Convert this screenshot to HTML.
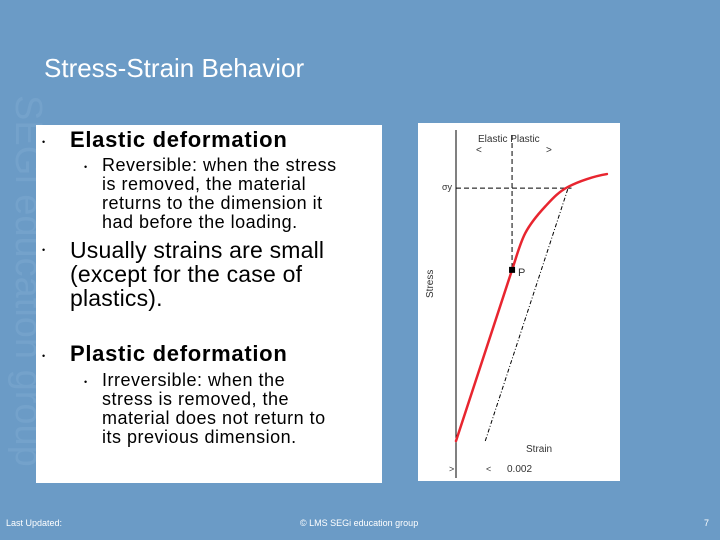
<!DOCTYPE html>
<html><head><meta charset="utf-8"><style>
body{margin:0;width:720px;height:540px;background:#6b9bc6;position:relative;overflow:hidden;font-family:"Liberation Sans",Arial,sans-serif}
.abs{position:absolute}
#title{left:44px;top:53px;font-size:26px;color:#fff}
#panel{left:36px;top:125px;width:346px;height:358px;background:#fff}
.b{position:absolute;font-size:22px;color:#000;line-height:24px;font-weight:bold;letter-spacing:0.7px}
.n{font-weight:normal;letter-spacing:0.2px}
.s{position:absolute;font-size:18px;color:#000;line-height:19px;white-space:nowrap;letter-spacing:0.5px}
.dot{position:absolute;font-size:9px}
#wm{left:8px;top:95px;writing-mode:vertical-rl;font-size:38px;color:#74a2cb;line-height:40px}
.foot{position:absolute;font-size:9px;color:#fff;top:518px}
</style></head><body>
<div id="wm" class="abs">SEGi education group</div>
<div id="title" class="abs">Stress-Strain Behavior</div>
<div id="panel" class="abs">
<div class="dot" style="left:6px;top:12px">•</div>
<div class="b" style="left:34px;top:3px">Elastic deformation</div>
<div class="dot" style="left:48px;top:37px">•</div>
<div class="s" style="left:66px;top:31px">Reversible: when the stress<br>is removed, the material<br>returns to the dimension it<br>had before the loading.</div>
<div class="dot" style="left:6px;top:120px">•</div>
<div class="b n" style="left:34px;top:113px;width:290px;font-size:23px">Usually strains are small (except for the case of plastics).</div>
<div class="dot" style="left:6px;top:226px">•</div>
<div class="b" style="left:34px;top:217px">Plastic deformation</div>
<div class="dot" style="left:48px;top:252px">•</div>
<div class="s" style="left:66px;top:246px">Irreversible: when the<br>stress is removed, the<br>material does not return to<br>its previous dimension.</div>
</div>
<svg class="abs" style="left:418px;top:123px" width="202" height="358">
<rect width="202" height="358" fill="#fff"/>
<g id="g" transform="translate(-418,-123)"></g>
</svg>
<div class="foot" style="left:6px">Last Updated:</div>
<div class="foot" style="left:300px">© LMS SEGi education group</div>
<div class="foot" style="left:704px">7</div>
<script>
const strain=[0,0.364,0.45,0.58,0.73,0.98];
const stress=[0,0.609,0.74,0.835,0.905,0.95];
const pIndex=1;const yieldStress=0.900;const offset=0.19;
const x=s=>456+s*154, y=v=>441-v*281;
const g=document.getElementById('g');const NS='http://www.w3.org/2000/svg';
function add(t,a,txt){const e=document.createElementNS(NS,t);for(const k in a)e.setAttribute(k,a[k]);if(txt)e.textContent=txt;g.appendChild(e);return e;}
let e=add('line',{x1:456,y1:130,x2:456,y2:478,stroke:'#000','stroke-width':1});

e=add('line',{x1:x(0),y1:y(yieldStress),x2:x(0.75),y2:y(yieldStress),stroke:'#000','stroke-dasharray':'5,3'});

e=add('line',{x1:x(strain[pIndex]),y1:135,x2:x(strain[pIndex]),y2:y(stress[pIndex]),stroke:'#000','stroke-dasharray':'5,3'});

const sl=stress[pIndex]/strain[pIndex];
e=add('line',{x1:x(offset),y1:y(0),x2:x(offset+yieldStress/sl),y2:y(yieldStress),stroke:'#000','stroke-dasharray':'4,2,1,2'});

const px=strain.map(x), py=stress.map(y);
let d='M'+px[0]+','+py[0]+'L'+px[1]+','+py[1];
for(let i=1;i<px.length-1;i++){
  const p0x=i===1?2*px[1]-px[2]:px[i-1];
  const p0y=i===1?py[1]-(py[1]-py[0])*((px[2]-px[1])/(px[1]-px[0])):py[i-1];
  const p3x=i+2<px.length?px[i+2]:2*px[i+1]-px[i], p3y=i+2<py.length?py[i+2]:py[i+1];
  const c1x=px[i]+(px[i+1]-p0x)/6, c1y=py[i]+(py[i+1]-p0y)/6;
  const c2x=px[i+1]-(p3x-px[i])/6, c2y=py[i+1]-(p3y-py[i])/6;
  d+='C'+c1x+','+c1y+' '+c2x+','+c2y+' '+px[i+1]+','+py[i+1];
}
e=add('path',{d:d,fill:'none',stroke:'#e8252f','stroke-width':2.5,'stroke-linejoin':'round','stroke-linecap':'round'});

e=add('rect',{x:x(strain[pIndex])-3,y:y(stress[pIndex])-3,width:6,height:6,fill:'#000'});

const labs=[['P',518,276,11],['Elastic  Plastic',478,142,10],['<',476,153,10],['>',546,153,10],['σy',442,190,9],['Strain',526,452,10],['0.002',507,472,10],['>',449,472,9],['<',486,472,9]];
labs.forEach(l=>{e=add('text',{x:l[1],y:l[2],'font-size':l[3],fill:'#333','font-family':'Liberation Sans'},l[0]);
});
e=add('text',{x:0,y:0,'font-size':10,fill:'#333',transform:'translate(433,298) rotate(-90)','font-family':'Liberation Sans'},'Stress');

</script>
</body></html>
